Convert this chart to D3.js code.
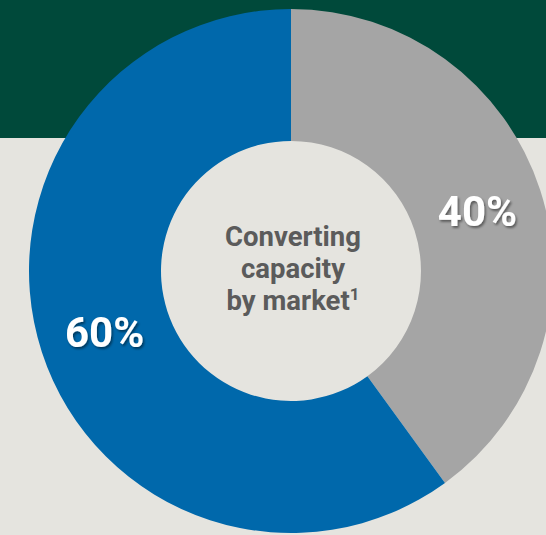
<!DOCTYPE html>
<html>
<head>
<meta charset="utf-8">
<script src="https://cdn.jsdelivr.net/npm/d3@7"></script>
<style>
  body { margin: 0; background: #e5e4df; }
  svg { display: block; }
  .pct { font-family: Roboto, "Open Sans", sans-serif; font-weight: 700; fill: #fff; }
  .center { font-family: Roboto, "Open Sans", sans-serif; font-weight: 700; fill: #5b5b5b; }
</style>
</head>
<body>
<svg width="546" height="535"></svg>
<script>
// market shares of converting capacity
var markets = ["Other", "Main"];
var shares = [40, 60];
var colors = ["#a5a5a5", "#0068ab"];
var centerLines = ["Converting", "capacity", "by market"];

function draw_chart() {
    var width = 546, height = 535;
    var cx = 291, cy = 271;
    var svg = d3.select("svg");

    // dark band behind the top of the donut
    svg.append("rect")
        .attr("width", width)
        .attr("height", 138)
        .attr("fill", "#00493a");

    var defs = svg.append("defs");
    defs.append("filter")
        .attr("id", "shadow")
        .attr("x", "-20%").attr("y", "-20%")
        .attr("width", "140%").attr("height", "140%")
        .append("feDropShadow")
        .attr("dx", 1.5).attr("dy", 2)
        .attr("stdDeviation", 1.2)
        .attr("flood-color", "#000")
        .attr("flood-opacity", 0.45);

    var data = markets.map(function (m, i) {
        return { market: m, value: shares[i], color: colors[i] };
    });

    var pie = d3.pie()
        .sort(null)
        .value(function (d) { return d.value; });

    var arc = d3.arc()
        .innerRadius(130)
        .outerRadius(262);

    var g = svg.append("g")
        .attr("transform", "translate(" + cx + "," + cy + ")");

    var arcs = pie(data);

    g.selectAll("path")
        .data(arcs)
        .enter().append("path")
        .attr("d", arc)
        .attr("fill", function (d) { return d.data.color; });

    // percent labels at the centroid of each slice
    g.selectAll(".pct")
        .data(arcs)
        .enter().append("text")
        .attr("class", "pct")
        .attr("transform", function (d) { return "translate(" + arc.centroid(d) + ")"; })
        .attr("text-anchor", "middle")
        .attr("dy", "0.36em")
        .attr("font-size", 42)
        .attr("filter", "url(#shadow)")
        .text(function (d) { return d.data.value + "%"; });

    // title in the hole
    var title = g.append("text")
        .attr("class", "center")
        .attr("text-anchor", "middle")
        .attr("font-size", 27.5);

    centerLines.forEach(function (line, i) {
        title.append("tspan")
            .attr("x", 2)
            .attr("y", -25 + i * 32)
            .text(line);
        if (i == centerLines.length - 1) {
            title.append("tspan")
                .attr("font-size", 17)
                .attr("dy", -10)
                .text("1");
        }
    });
}

draw_chart();
</script>
</body>
</html>
